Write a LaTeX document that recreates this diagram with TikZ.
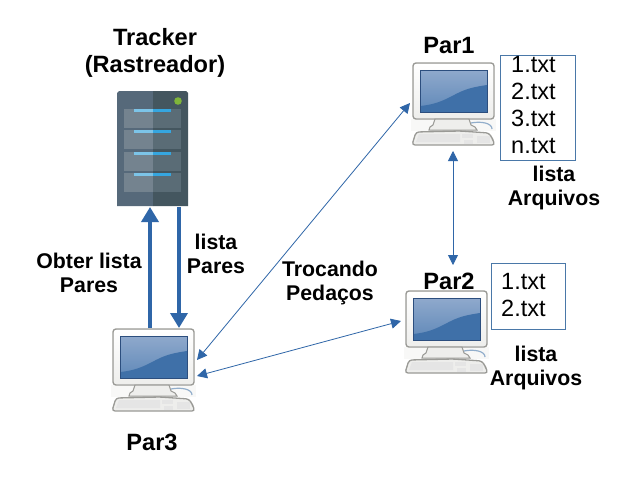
\documentclass[tikz,border=0pt]{standalone}
\usepackage{fontspec}
\setmainfont{Liberation Sans}
\usetikzlibrary{arrows.meta}
\definecolor{linkblue}{HTML}{2F66A8}
\definecolor{boxblue}{HTML}{4A78A8}
\definecolor{pcgrey}{HTML}{9A9A96}
\definecolor{pcface}{HTML}{EEEEEC}
\definecolor{srvleft}{HTML}{56697A}
\definecolor{srvright}{HTML}{44565F}
\definecolor{drwleft}{HTML}{74838F}
\definecolor{drwright}{HTML}{5A6C76}
\definecolor{barleft}{HTML}{7CC4E8}
\definecolor{barright}{HTML}{35A6E0}
\definecolor{ledgreen}{HTML}{7FB53A}
\definecolor{scrtop}{HTML}{8FA9CC}
\definecolor{scrbot}{HTML}{5F88B8}
\definecolor{scrlow}{HTML}{3F70A8}
\definecolor{scrframe}{HTML}{2C4E7E}
\tikzset{
  thick link/.style={draw=linkblue,line width=3.6pt,-{Triangle[length=15pt,width=17pt]}},
  thin link/.style={draw=linkblue,line width=0.8pt,{Triangle[length=10pt,width=10pt]}-{Triangle[length=10pt,width=10pt]}},
  head/.style={font=\fontsize{23.6}{27}\selectfont\bfseries,align=center,inner sep=0pt},
  lab/.style={font=\fontsize{21.3}{24}\selectfont\bfseries,align=center,inner sep=0pt},
  filebox/.style={draw=boxblue,line width=1pt,inner sep=0pt,anchor=north west},
  filetxt/.style={font=\fontsize{23.5}{26}\selectfont,inner sep=0pt,anchor=base west},
  pc anchor/.style={inner sep=0pt,minimum width=83pt,minimum height=84pt,anchor=north west},
  pics/computer/.style={code={
    \fill[pcface!40] (-2,56) rectangle (83,68);
    \draw[pcgrey,line width=1.4pt,fill=pcface,rounded corners=3pt] (0,0) rectangle (81,56);
    \shade[top color=white,bottom color=pcface,rounded corners=2pt] (1,1) rectangle (80,55);
    \shade[top color=scrtop,bottom color=scrbot] (7,7) rectangle (74,49);
    \fill[scrlow] (7,49) -- (7,43) .. controls (30,41) and (40,31) .. (52,27) .. controls (60,24) and (68,23) .. (74,22) -- (74,49) -- cycle;
    \draw[scrframe,line width=1pt] (7,7) rectangle (74,49);
    \draw[pcgrey,line width=1pt,fill=pcface] (22,56) -- (20,62) -- (17,64) -- (16,67) -- (64,67) -- (62,64) -- (58,62) -- (56,56) -- cycle;
    \draw[boxblue!60!white,line width=1.2pt] (58,60) .. controls (68,58) and (79,60) .. (79,66);
    \draw[pcgrey,line width=1.3pt,fill=pcface,rounded corners=3pt] (3,69) -- (-1,82) -- (82,82) -- (79,75) -- (76,70) -- (47,68) -- cycle;
    \fill[black!10] (6,71) -- (3,79) -- (47,79) -- (47,71) -- cycle;
    \fill[black!10] (49,71) rectangle (60,75);
    \fill[black!10] (51,77) rectangle (60,81);
    \fill[black!10] (64,73) rectangle (77,80);
  }}
}
\begin{document}
\begin{tikzpicture}[x=1pt,y=-1pt]
\useasboundingbox (0,0) rectangle (624,482);
\fill[white] (0,0) rectangle (624,482);

% tracker server
\node[inner sep=0pt,minimum width=71pt,minimum height=115pt,anchor=north west] (tracker) at (117,91) {};
\fill[srvleft] (117,206) -- (117,93) -- (119,91) -- (153,91) -- (153,206) -- cycle;
\fill[srvright] (153,206) -- (153,91) -- (186,91) -- (188,93) -- (188,206) -- cycle;
\foreach \ty in {109,130,152,173}{
  \fill[drwleft] (124,\ty) rectangle (153,\ty+19);
  \fill[drwright] (153,\ty) rectangle (181,\ty+19);
  \fill[barleft] (134,\ty-0.5) rectangle (153,\ty+3);
  \fill[barright] (153,\ty-0.5) rectangle (171,\ty+3);
}
\fill[ledgreen] (178,101) circle (3.8);

% computers
\node[pc anchor] (par1) at (413,63) {};
\node[pc anchor] (par2) at (406,291) {};
\node[pc anchor] (par3) at (113,329) {};
\pic at (413,63) {computer};
\pic at (406,291) {computer};
\pic at (113,329) {computer};

% titles
\node[head] (ttracker) at (155,53) {Tracker\\(Rastreador)};
\node[head] (tpar1) at (449,45) {Par1};
\node[head] (tpar2) at (449,281) {Par2};
\node[head] (tpar3) at (152,442) {Par3};

% labels
\node[lab] (lobter) at (89,272.5) {Obter lista\\Pares};
\node[lab] (lpares) at (216,254) {lista\\Pares};
\node[lab] (ltroca) at (330,283) {Trocando\\Pedaços};
\node[lab] (larq1) at (554,188) {lista\\Arquivos};
\node[lab] (larq2) at (536,367.5) {lista\\Arquivos};

% file boxes
\node[filebox,minimum width=75pt,minimum height=105pt] (files1) at (500,55) {};
\node[filebox,minimum width=74pt,minimum height=66pt] (files2) at (491,263) {};
\node[filetxt] (f1a) at (511,72) {1.txt};
\node[filetxt] (f1b) at (511,99) {2.txt};
\node[filetxt] (f1c) at (511,126) {3.txt};
\node[filetxt] (f1d) at (511,153) {n.txt};
\node[filetxt] (f2a) at (501,289) {1.txt};
\node[filetxt] (f2b) at (501,316) {2.txt};

% connector ends
\coordinate (e1) at (150,328);
\coordinate (e2) at (150,207);
\coordinate (e3) at (179,207);
\coordinate (e4) at (179,328);
\coordinate (a1) at (197,360);
\coordinate (a2) at (410,103);
\coordinate (b1) at (197,376);
\coordinate (b2) at (401,321);
\coordinate (c1) at (453,151);
\coordinate (c2) at (453,265);

\draw[thick link] (e1) -- (e2);
\draw[thick link] (e3) -- (e4);
\draw[thin link] (a1) -- (a2);
\draw[thin link] (b1) -- (b2);
\draw[thin link] (c1) -- (c2);
\end{tikzpicture}
\end{document}
